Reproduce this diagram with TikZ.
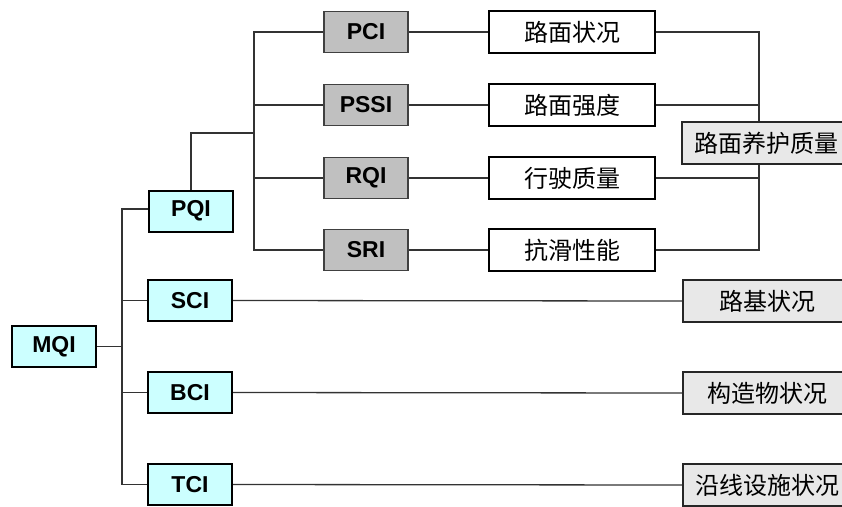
\documentclass[tikz,border=0pt]{standalone}
\usepackage{fontspec}
\setmainfont{Liberation Sans}
\newfontfamily\cjk{Noto Sans CJK SC}
\usetikzlibrary{backgrounds}
\definecolor{cyanbox}{HTML}{CCFFFF}
\definecolor{graybox}{HTML}{C0C0C0}
\definecolor{resgray}{HTML}{E8E8E8}
\begin{document}
\begin{tikzpicture}[x=1pt,y=-1pt,
  base/.style={draw=black, line width=2pt, inner sep=0pt, minimum height=41pt,
    font=\fontsize{23}{25}\selectfont\bfseries},
  idx/.style={base, fill=cyanbox, minimum width=84pt},
  sub/.style={base, fill=graybox, draw=black!75, line width=1.6pt, minimum width=84pt},
  item/.style={draw=black, line width=2pt, fill=white, minimum width=166pt,
    minimum height=42pt, inner sep=0pt, font=\cjk\fontsize{24}{26}\selectfont},
  res/.style={item, fill=resgray, minimum width=170pt, line width=1.6pt, draw=black!85, anchor=west},
  conn/.style={draw=black!80, line width=1.3pt}]
\useasboundingbox (0,0) rectangle (842,506);

% left index boxes
\node[idx] (MQI) at (54,346.5) {MQI};
\node[idx] (PQI) at (191,211) {PQI};
\node[idx] (SCI) at (190,300.5) {SCI};
\node[idx] (BCI) at (190,392.5) {BCI};
\node[idx] (TCI) at (190,484.5) {TCI};

% pavement sub-indices
\node[sub] (PCI) at (366,32) {PCI};
\node[sub] (PSSI) at (366,105) {PSSI};
\node[sub] (RQI) at (366,178) {RQI};
\node[sub] (SRI) at (366,250) {SRI};

% item boxes
\node[item] (r1) at (572,32) {路面状况};
\node[item] (r2) at (572,105) {路面强度};
\node[item] (r3) at (572,178) {行驶质量};
\node[item] (r4) at (572,250) {抗滑性能};

% result boxes
\node[res] (q) at (681,143) {路面养护质量};
\node[res] (s1) at (682,301) {路基状况};
\node[res] (s2) at (682,393) {构造物状况};
\node[res] (s3) at (682,485) {沿线设施状况};

\coordinate (tk) at (122,209);
\coordinate (bk) at (254,133);
\coordinate (rk) at (759,143);

\begin{pgfonlayer}{background}
  % trunk
  \draw[conn] (PQI.west |- tk) -- (tk) |- (TCI.west);
  \draw[conn] (MQI.east) -- (MQI.east -| tk);
  \draw[conn] (SCI.west) -- (SCI.west -| tk);
  \draw[conn] (BCI.west) -- (BCI.west -| tk);
  % pavement branch
  \draw[conn] (PQI.north) |- (bk);
  \draw[conn] (PCI.west) -| (bk);
  \draw[conn] (SRI.west) -| (bk);
  \draw[conn] (PSSI.west) -- (PSSI.west -| bk);
  \draw[conn] (RQI.west) -- (RQI.west -| bk);
  % sub to item
  \draw[conn] (PCI.east) -- (r1.west);
  \draw[conn] (PSSI.east) -- (r2.west);
  \draw[conn] (RQI.east) -- (r3.west);
  \draw[conn] (SRI.east) -- (r4.west);
  % items to result
  \draw[conn] (r1.east) -| (rk);
  \draw[conn] (r4.east) -| (rk);
  \draw[conn] (r2.east) -- (r2.east -| rk);
  \draw[conn] (r3.east) -- (r3.east -| rk);
  % other indices to results
  \draw[conn] (SCI.east) -- (s1.west);
  \draw[conn] (BCI.east) -- (s2.west);
  \draw[conn] (TCI.east) -- (s3.west);
\end{pgfonlayer}
\end{tikzpicture}
\end{document}
